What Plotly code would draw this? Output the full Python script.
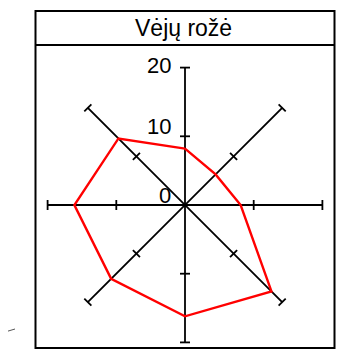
import math
import plotly.graph_objects as go

# ---- data ----
directions = ["Š", "ŠR", "R", "PR", "P", "PV", "V", "ŠV"]
angles_deg = [0, 45, 90, 135, 180, 225, 270, 315]   # compass bearings
values = [8.2, 6.3, 8.1, 17.8, 16.2, 15.2, 16.1, 13.7]
axis_max = 20
tick_values = [10, 20]
label_values = [0, 10, 20]
title_text = "Vėjų rožė"

# page body has an 8px margin, so the figure is placed at (8, 8) of the window
OFF = 8
W, H = 352 - OFF, 349 - OFF
cx_px, cy_px = 185.0 - OFF, 205.0 - OFF
scale = 6.87  # px per unit
x_range = [(0 - cx_px) / scale, (W - cx_px) / scale]
y_range = [-(H - cy_px) / scale, cy_px / scale]

FONT = "Arial, Liberation Sans, sans-serif"

def pol(r, deg):
    t = math.radians(deg)
    return r * math.sin(t), r * math.cos(t)

fig = go.Figure()

# axis lines (4 lines through centre, 8 half-axes)
tick_half = 5.0 / scale
for deg in [0, 45, 90, 135]:
    x1, y1 = pol(axis_max, deg)
    x2, y2 = pol(axis_max, deg + 180)
    fig.add_trace(go.Scatter(x=[x2, x1], y=[y2, y1], mode="lines",
                             line=dict(color="black", width=1.8),
                             hoverinfo="skip", showlegend=False))
# tick marks
tx, ty = [], []
for deg in angles_deg:
    for tv in tick_values:
        px, py = pol(tv, deg)
        qx, qy = pol(tick_half, deg + 90)
        tx += [px - qx, px + qx, None]
        ty += [py - qy, py + qy, None]
fig.add_trace(go.Scatter(x=tx, y=ty, mode="lines",
                         line=dict(color="black", width=1.8),
                         hoverinfo="skip", showlegend=False))

# data polygon
xs, ys = [], []
for v, a in zip(values + values[:1], angles_deg + angles_deg[:1]):
    x, y = pol(v, a)
    xs.append(x)
    ys.append(y)
fig.add_trace(go.Scatter(x=xs, y=ys, mode="lines",
                         line=dict(color="#ff0000", width=2.4),
                         text=directions + directions[:1],
                         hoverinfo="text", showlegend=False))

# labels on north axis
for lv in label_values:
    fig.add_annotation(x=0, y=lv, xref="x", yref="y", text=str(lv),
                       showarrow=False, xanchor="right", yanchor="middle",
                       xshift=-12, yshift=(2 if lv == axis_max else 10),
                       font=dict(family=FONT, size=22, color="black"))

def px2paper(x, y):
    return (x - OFF) / W, 1 - (y - OFF) / H

# frame + title separator
bx0, by0 = px2paper(35.5, 11)
bx1, by1 = px2paper(334.5, 348)
fig.add_shape(type="rect", xref="paper", yref="paper",
              x0=bx0, y0=by1, x1=bx1, y1=by0,
              line=dict(color="black", width=2))
sx0, sy = px2paper(35.5, 45)
sx1, _ = px2paper(334.5, 45)
fig.add_shape(type="line", xref="paper", yref="paper",
              x0=sx0, y0=sy, x1=sx1, y1=sy,
              line=dict(color="black", width=2))
# small stray stroke bottom-left (only the visible part)
lx0, ly0 = px2paper(8, 331.1)
lx1, ly1 = px2paper(15, 329)
fig.add_shape(type="line", xref="paper", yref="paper",
              x0=lx0, y0=ly0, x1=lx1, y1=ly1,
              line=dict(color="#555555", width=1))

tx_, ty_ = px2paper(183, 28.5)
fig.add_annotation(x=tx_, y=ty_, xref="paper", yref="paper", text=title_text,
                   showarrow=False, xanchor="center", yanchor="middle",
                   font=dict(family=FONT, size=23, color="black"))

fig.update_layout(
    width=W, height=H,
    margin=dict(l=0, r=0, t=0, b=0),
    paper_bgcolor="white", plot_bgcolor="white",
    xaxis=dict(range=x_range, visible=False, fixedrange=True),
    yaxis=dict(range=y_range, visible=False, fixedrange=True),
    showlegend=False,
)

fig.write_html("out.html")
